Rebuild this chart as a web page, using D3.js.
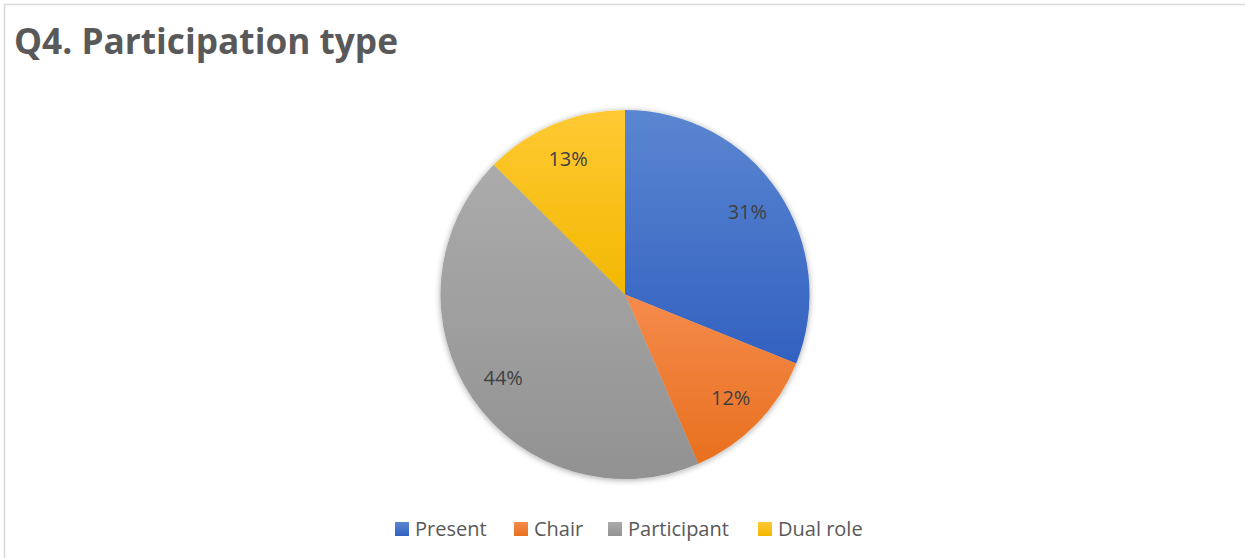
<!DOCTYPE html>
<html>
<head>
<meta charset="utf-8">
<script src="https://cdn.jsdelivr.net/npm/d3@7"></script>
<style>
  html, body { margin: 0; padding: 0; background: #fff; }
  svg { display: block; }
</style>
</head>
<body>
<svg id="chart" width="1245" height="558"></svg>
<script>
const title = "Q4. Participation type";
const categories = ["Present", "Chair", "Participant", "Dual role"];
const values = [31.1, 12.4, 43.9, 12.6];
const labels = ["31%", "12%", "44%", "13%"];
const colorTop = ["#5b86d1", "#f58b4c", "#ababab", "#ffc934"];
const colorBottom = ["#3261c0", "#e8701e", "#929292", "#f2b800"];

const svg = d3.select("#chart");
const W = 1245, H = 558;

// chart border
svg.append("rect").attr("x", 4.5).attr("y", 4.5).attr("width", W + 10).attr("height", H + 10)
  .attr("fill", "#fff").attr("stroke", "#d9d9d9").attr("stroke-width", 1.5);

const defs = svg.append("defs");
categories.forEach((c, i) => {
  const g = defs.append("linearGradient").attr("id", "g" + i)
    .attr("x1", 0).attr("y1", 0).attr("x2", 0).attr("y2", 1);
  g.append("stop").attr("offset", "0%").attr("stop-color", colorTop[i]);
  g.append("stop").attr("offset", "100%").attr("stop-color", colorBottom[i]);
});
const f = defs.append("filter").attr("id", "shadow").attr("x", "-20%").attr("y", "-20%").attr("width", "140%").attr("height", "140%");
f.append("feGaussianBlur").attr("in", "SourceAlpha").attr("stdDeviation", 3).attr("result", "b");
f.append("feOffset").attr("in", "b").attr("dx", 0).attr("dy", 1).attr("result", "o");
f.append("feComponentTransfer").attr("in", "o").attr("result", "oa")
  .append("feFuncA").attr("type", "linear").attr("slope", 0.35);
const fm = f.append("feMerge");
fm.append("feMergeNode").attr("in", "oa");
fm.append("feMergeNode").attr("in", "SourceGraphic");

// title
svg.append("text").attr("x", 14).attr("y", 54)
  .attr("font-family", "'Open Sans', sans-serif").attr("font-weight", 700)
  .attr("font-size", 35).attr("fill", "#595959")
  .attr("textLength", 384).attr("lengthAdjust", "spacingAndGlyphs")
  .text(title);

// pie
const cx = 625, cy = 294.5, R = 184.5;
const pie = d3.pie().sort(null).value(d => d);
const arcs = pie(values);
const arc = d3.arc().innerRadius(0).outerRadius(R);
const labelArc = d3.arc().innerRadius(R * 0.8).outerRadius(R * 0.8);

const g = svg.append("g").attr("transform", `translate(${cx},${cy})`);
g.append("g").attr("filter", "url(#shadow)")
  .selectAll("path").data(arcs).join("path")
  .attr("d", arc).attr("fill", (d, i) => `url(#g${i})`);

g.selectAll("text.lbl").data(arcs).join("text").attr("class", "lbl")
  .attr("transform", d => `translate(${labelArc.centroid(d)})`)
  .attr("text-anchor", "middle").attr("dy", "0.36em")
  .attr("font-family", "'Open Sans', sans-serif").attr("font-size", 20)
  .attr("fill", "#404040")
  .text((d, i) => labels[i]);

// legend
const legendX = [395, 514, 608, 758];
const lg = svg.append("g");
categories.forEach((c, i) => {
  lg.append("rect").attr("x", legendX[i]).attr("y", 522).attr("width", 14).attr("height", 14)
    .attr("fill", `url(#g${i})`);
  lg.append("text").attr("x", legendX[i] + 20).attr("y", 536)
    .attr("font-family", "'Open Sans', sans-serif").attr("font-size", 20)
    .attr("fill", "#595959").text(c);
});
</script>
</body>
</html>
